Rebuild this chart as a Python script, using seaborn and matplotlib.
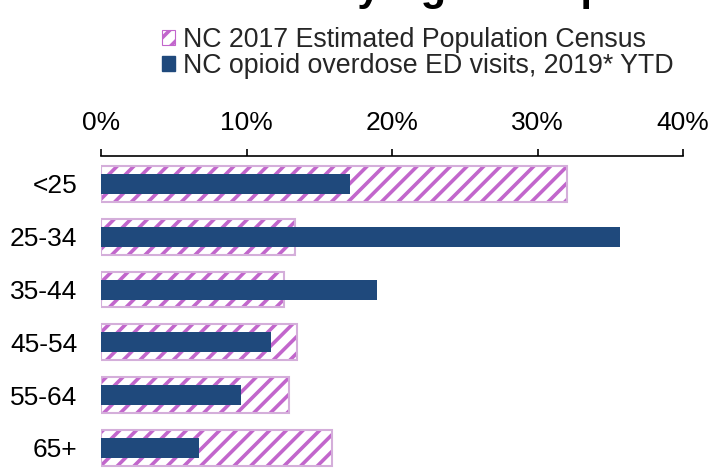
import pandas as pd
import matplotlib.pyplot as plt
import seaborn as sns
from matplotlib.patches import Patch
from matplotlib.ticker import PercentFormatter

age_groups = ['<25', '25-34', '35-44', '45-54', '55-64', '65+']
census_pct = [0.32, 0.133, 0.126, 0.135, 0.129, 0.159]
ed_visits_pct = [0.171, 0.357, 0.190, 0.117, 0.096, 0.067]

census_label = 'NC 2017 Estimated Population Census'
ed_label = 'NC opioid overdose ED visits, 2019* YTD'

df = pd.DataFrame({'age': age_groups, 'census': census_pct, 'ed': ed_visits_pct})

sns.set_theme(style="white")
plt.rcParams['font.family'] = ['Liberation Sans', 'DejaVu Sans']
plt.rcParams['hatch.linewidth'] = 2.6

blue = '#1F497C'
hatch_purple = '#C266CC'
edge_purple = '#D4AEDA'

fig = plt.figure(figsize=(7.18, 4.69), dpi=100)
ax = fig.add_axes([0.1407, 0.0, 0.8106, 0.6674])

# census bars: hatch layer + thin border layer
sns.barplot(data=df, y='age', x='census', orient='h', width=0.68,
            color='white', edgecolor=hatch_purple, hatch='//', linewidth=0, ax=ax)
sns.barplot(data=df, y='age', x='census', orient='h', width=0.68,
            fill=False, edgecolor=edge_purple, linewidth=1.5, ax=ax)
# ED visit bars
sns.barplot(data=df, y='age', x='ed', orient='h', width=0.38,
            color=blue, saturation=1, linewidth=0, ax=ax)

ax.set_xlim(0, 0.40)
ax.set_ylim(5.4, -0.53)
ax.xaxis.set_major_formatter(PercentFormatter(1.0, decimals=0))
ax.set_xticks([0, 0.1, 0.2, 0.3, 0.4])
ax.xaxis.tick_top()
ax.tick_params(axis='x', direction='out', length=5, width=1.2, color='black',
               labelsize=19, pad=10, labelcolor='black')
ax.tick_params(axis='y', length=0, labelsize=19, pad=17, labelcolor='black')
ax.set_xlabel('')
ax.set_ylabel('')

for side in ['bottom', 'left', 'right']:
    ax.spines[side].set_visible(False)
ax.spines['top'].set_color('black')
ax.spines['top'].set_linewidth(1.2)

handles = [Patch(facecolor='white', edgecolor=hatch_purple, hatch='//', linewidth=0.8),
           Patch(facecolor=blue, edgecolor=blue)]
fig.legend(handles, [census_label, ed_label], loc='upper left',
           bbox_to_anchor=(0.225, 0.943), frameon=False, fontsize=19.3,
           handlelength=0.5, handleheight=0.5, handletextpad=0.3, labelspacing=0.0,
           borderpad=0, borderaxespad=0)

# title cut off at the top edge of the image
fig.text(0.463, 1.0, 'by Age Group', fontsize=30, fontweight='bold',
         ha='left', va='baseline', color='black')

plt.savefig('out.png', dpi=100)
plt.close()
